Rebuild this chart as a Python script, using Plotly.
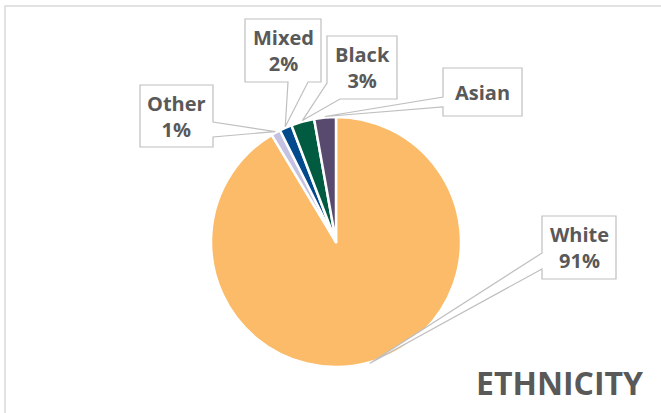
import math
import plotly.graph_objects as go

# ---- data ----
categories = ["White", "Other", "Mixed", "Black", "Asian"]
values = [91.4, 1.2, 1.6, 3.0, 2.8]
label_texts = ["White<br>91%", "Other<br>1%", "Mixed<br>2%", "Black<br>3%", "Asian"]
colors = ["#FBBB69", "#C5C1E1", "#034A8C", "#005B40", "#574A6E"]
title_text = "ETHNICITY"

W, H = 661, 413
CX, CY, R = 336, 242, 125


def px(x):
    return x / W


def py(y):
    return 1 - y / H


fig = go.Figure()
fig.add_trace(go.Pie(
    labels=categories, values=values, sort=False, direction="clockwise",
    rotation=0, textinfo="none", hoverinfo="skip",
    marker=dict(colors=colors, line=dict(color="white", width=2.5)),
    domain=dict(x=[px(CX - R), px(CX + R)], y=[py(CY + R), py(CY - R)]),
    showlegend=False,
))

# tip point of each callout: slice mid-angle on the pie edge
total = sum(values)
tips = {}
cum = 0
for c, v in zip(categories, values):
    th = math.radians((cum + v / 2) / total * 360)
    tips[c] = (CX + (R + 1) * math.sin(th), CY - (R + 1) * math.cos(th))
    cum += v

# callout boxes (pixel layout): box, and outline sequence with "TIP" placeholder
callouts = {
    "Other": dict(box=(140, 85, 213, 147),
                  outline=[(140, 85), (213, 85), (213, 122), "TIP", (213, 137), (213, 147), (140, 147)]),
    "Mixed": dict(box=(245, 19, 321, 82),
                  outline=[(245, 19), (321, 19), (321, 82), (308, 82), "TIP", (288, 82), (245, 82)]),
    "Black": dict(box=(327, 36, 397, 99),
                  outline=[(327, 36), (397, 36), (397, 99), (340, 99), "TIP", (327, 83)]),
    "Asian": dict(box=(443, 68, 522, 116),
                  outline=[(443, 68), (522, 68), (522, 116), (443, 116), (443, 107), "TIP", (443, 97)]),
    "White": dict(box=(542, 216, 616, 279),
                  outline=[(542, 216), (616, 216), (616, 279), (542, 279), (542, 269), "TIP", (542, 253)]),
}

shapes = [dict(type="rect", xref="paper", yref="paper",
               x0=px(5), y0=py(6), x1=px(W + 20), y1=py(H + 20),
               line=dict(color="#D9D9D9", width=1.5), fillcolor="rgba(0,0,0,0)", layer="below")]
annotations = []
for c, t in zip(categories, label_texts):
    co = callouts[c]
    pts = [tips[c] if p == "TIP" else p for p in co["outline"]]
    path = "M " + " L ".join(f"{px(x):.5f},{py(y):.5f}" for x, y in pts) + " Z"
    shapes.append(dict(type="path", xref="paper", yref="paper", path=path,
                       fillcolor="white", line=dict(color="#BFBFBF", width=1.2), layer="above"))
    x0, y0, x1, y1 = co["box"]
    annotations.append(dict(x=px((x0 + x1) / 2), y=py((y0 + y1) / 2), xref="paper", yref="paper",
                            text=f"<b>{t}</b>", showarrow=False, xanchor="center", yanchor="middle",
                            font=dict(family="Open Sans", size=20, color="#595959")))

annotations.append(dict(x=px(645), y=py(382), xref="paper", yref="paper",
                        text=f"<b>{title_text}</b>", showarrow=False, xanchor="right", yanchor="middle",
                        font=dict(family="Open Sans", size=32, color="#595959")))

fig.update_layout(width=W, height=H, margin=dict(l=0, r=0, t=0, b=0),
                  paper_bgcolor="white", plot_bgcolor="white",
                  shapes=shapes, annotations=annotations)
fig.write_html("out.html", config={"displayModeBar": False},
               post_script="document.body.style.margin='0';")
